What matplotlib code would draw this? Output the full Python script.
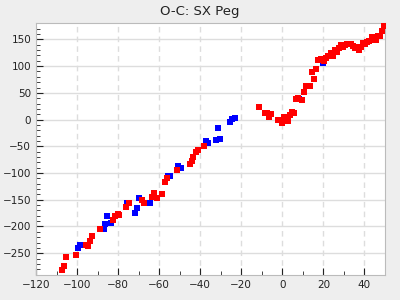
import matplotlib
matplotlib.use('Agg')
import matplotlib.pyplot as plt
from matplotlib.ticker import MultipleLocator

# O-C points, blue series (drawn first)
blue_x = [-99.4, -98.4, -86.8, -86.2, -85.2, -83.3, -75.8, -71.6, -70.6, -69.6,
          -64.3, -55.5, -54.5, -50.6, -49.6, -37.4, -36.4, -32.5, -31.5, -30.6,
          -25.7, -24.7, -23.3, 8.0, 19.7]
blue_y = [-239.7, -234, -204, -194.8, -179.8, -192.9, -155.5, -174, -164.8, -146,
          -155.5, -105, -105, -86, -90, -39.4, -43, -37.5, -15, -35.6,
          -3.8, 1.9, 3.7, 38, 106.7]

# O-C points, red series
red_x = [-107.2, -106.2, -105.2, -100.3, -95.5, -94.5, -93.5, -92.5, -88.6, -82.3,
         -81.3, -80.3, -79.4, -76.4, -74.5, -68.6, -67.6, -63.3, -62.3, -61.3,
         -58.4, -57.4, -56.4, -51.5, -45.2, -44.2, -43.3, -42.3, -41.3, -38.4,
         -11.5, -8.6, -7.6, -6.7, -5.7, -2.3, -1.3, -0.3, 0.6, 1.6,
         2.6, 3.6, 4.5, 5.5, 6.5, 7.5, 9.4, 10.4, 11.4, 12.3,
         13.3, 14.3, 15.3, 16.2, 17.2, 18.7, 20.1, 21.1, 22.1, 23.6,
         24.5, 25.5, 26.5, 27.5, 28.4, 29.4, 30.4, 31.4, 32.3, 33.3,
         34.3, 35.3, 36.2, 37.2, 38.2, 39.2, 40.2, 41.1, 42.1, 43.6,
         44.6, 45.5, 46.5, 47.5, 48.5, 49.4]
red_y = [-282, -274.7, -257.9, -252.9, -234, -236, -226.6, -218.5, -204, -187,
         -181, -176, -178, -163, -155.5, -151, -155.5, -144, -136.7, -146,
         -138.6, -116, -108.6, -93.6, -84, -78, -69.3, -60.6, -57.5, -48.7,
         24.3, 13, 13, 5.6, 11.2, 0, 0, -5.6, 5.6, -1.9,
         -1.9, 9.4, 15, 13, 39.3, 41.2, 37.5, 52.4, 63.7, 63.7,
         63.7, 89.9, 76.8, 95.5, 112.4, 114.2, 109.2, 116, 119.8, 125.5,
         119.8, 131, 127, 134.8, 140.4, 136.7, 140.4, 142.3, 142.3, 142.3,
         138.6, 134.8, 136.7, 131, 136.7, 144.2, 142.3, 146, 147.9, 155.4,
         149.8, 149.8, 157.3, 157.3, 166.7, 176]

fig = plt.figure(figsize=(4, 3), dpi=100, facecolor='#eeeeee')
ax = fig.add_axes([0.09, 0.083, 0.8725, 0.839])
ax.set_facecolor('white')

ax.scatter(blue_x, blue_y, marker='s', s=19, color='#0000ff', linewidths=0, zorder=3)
ax.scatter(red_x, red_y, marker='s', s=19, color='#ff0000', linewidths=0, zorder=4)

ax.set_xlim(-120, 50)
ax.set_ylim(-291, 180)
ax.xaxis.set_major_locator(MultipleLocator(20))
ax.xaxis.set_minor_locator(MultipleLocator(10))
ax.yaxis.set_major_locator(MultipleLocator(50))
ax.yaxis.set_minor_locator(MultipleLocator(10))

ax.grid(True, axis='y', which='major', color='#dddddd', linewidth=1, linestyle='-')
ax.grid(True, axis='x', which='major', color='#dddddd', linewidth=1, linestyle=(0, (4, 3)))
ax.set_axisbelow(True)

ax.tick_params(which='both', direction='in', labelsize=7.5, colors='#222222',
               top=False, right=False)
ax.tick_params(which='major', length=5)
ax.tick_params(which='minor', length=3)
for s in ax.spines.values():
    s.set_color('#bbbbbb')

fig.suptitle('O-C: SX Peg', fontsize=9.5, y=0.963, va='center', color='#222222')

fig.savefig('out.png', dpi=100, facecolor=fig.get_facecolor())
